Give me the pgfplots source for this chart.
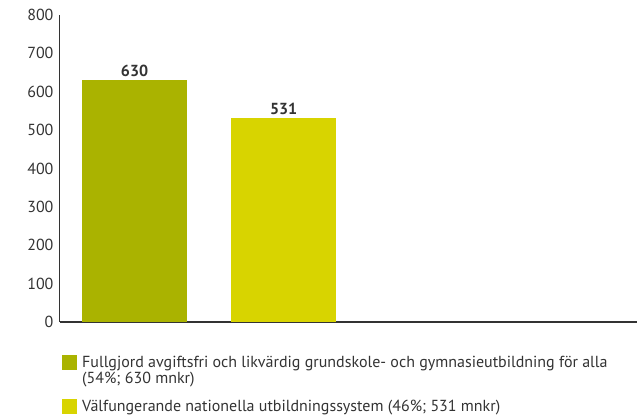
\documentclass[border=0pt]{standalone}
\usepackage{pgfplots}
\pgfplotsset{compat=1.18}
\usepackage{fontspec}
\setmainfont{PT Sans}
\definecolor{barA}{HTML}{AAB300}
\definecolor{barB}{HTML}{D8D400}
\definecolor{txt}{HTML}{333333}
\begin{document}
\begin{tikzpicture}
\useasboundingbox (-60pt,-94pt) rectangle (577pt,322pt);
\begin{axis}[
  at={(0,0)}, anchor=south west,
  scale only axis, width=577pt, height=307pt,
  xmin=-0.5, xmax=3.37, ymin=0, ymax=800,
  axis lines*=left,
  axis line style={txt, line width=1pt},
  x axis line style={line width=1.5pt},
  xtick=\empty,
  ytick distance=100,
  major tick length=0pt,
  yticklabel style={font=\fontsize{16}{17}\selectfont, text=txt, xshift=-3pt},
  /pgf/number format/assume math mode=true,
  bar width=105pt,
  nodes near coords,
  every node near coord/.append style={font=\fontsize{16}{17}\selectfont\bfseries, text=txt},
  legend style={at={(0,0)}, anchor=north west, yshift=-32pt, xshift=2pt,
    draw=none, fill=none, inner sep=0pt, row sep=11pt,
    font=\fontsize{16}{16}\selectfont, text=txt,
    cells={align=left}},
  legend cell align=left,
  clip=false,
]
\addplot[ybar, bar shift=0pt, fill=barA, draw=none,
  legend image code/.code={\fill[barA] (0pt,1pt) rectangle (15pt,16pt); \path (18pt,0pt);}]
  coordinates {(0,630)};
\addlegendentry{{Fullgjord avgiftsfri och likvärdig grundskole- och gymnasieutbildning för alla\\(54\%; 630 mnkr)}}
\addplot[ybar, bar shift=0pt, fill=barB, draw=none,
  legend image code/.code={\fill[barB] (0pt,-7.5pt) rectangle (15pt,7.5pt); \path (18pt,0pt);}]
  coordinates {(1,531)};
\addlegendentry{Välfungerande nationella utbildningssystem (46\%; 531 mnkr)}
\end{axis}
\end{tikzpicture}
\end{document}
